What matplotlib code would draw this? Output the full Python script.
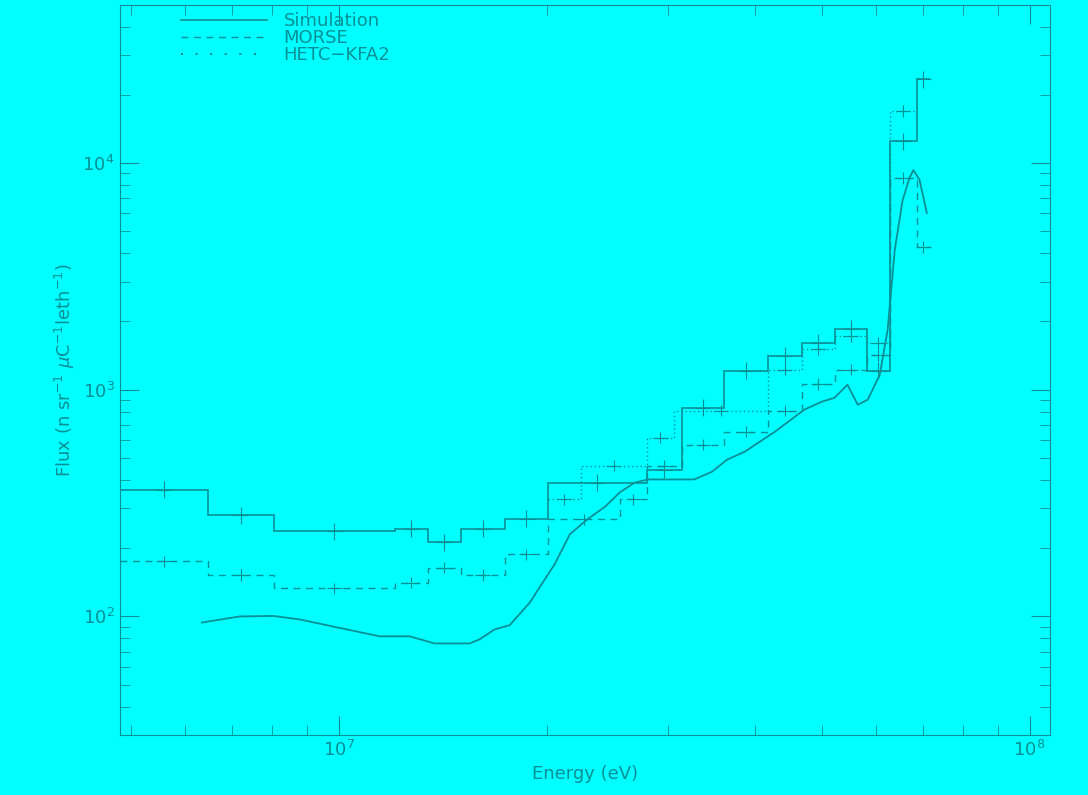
import numpy as np
import matplotlib.pyplot as plt
from matplotlib.ticker import LogLocator, NullFormatter

c = '#0a8f96'
bg = '#00ffff'

# histogram bin edges (eV) and values
sim_edges = [4.82e6, 6.46e6, 8.05e6, 1.205e7, 1.345e7, 1.502e7, 1.739e7, 2.007e7,
             2.79e7, 3.14e7, 3.61e7, 4.18e7, 4.68e7, 5.22e7, 5.81e7, 6.27e7, 6.86e7, 7.17e7]
sim_vals = [363, 279, 237, 244, 212, 244, 270, 389, 444, 833, 1213, 1412, 1611, 1857,
            1213, 12500, 23450]

morse_edges = [4.82e6, 6.46e6, 8.05e6, 1.205e7, 1.345e7, 1.502e7, 1.739e7, 2.007e7,
               2.55e7, 2.79e7, 3.14e7, 3.61e7, 4.18e7, 4.68e7, 5.22e7, 5.81e7, 6.27e7,
               6.86e7, 7.17e7]
morse_vals = [175, 152, 133, 141, 164, 152, 188, 268, 328, 463, 572, 653, 808, 1062,
              1225, 1426, 8590, 4266]

hetc_edges = [2.007e7, 2.24e7, 2.79e7, 3.06e7, 4.18e7, 4.68e7, 5.22e7, 5.81e7,
              6.27e7, 6.86e7]
hetc_vals = [328, 463, 615, 808, 1225, 1515, 1729, 1611, 16940]

# smooth simulation curve
curve_e = [6.34e6, 7.19e6, 8.05e6, 8.78e6, 1.146e7, 1.267e7, 1.377e7, 1.547e7, 1.6e7,
           1.682e7, 1.768e7, 1.89e7, 2.054e7, 2.16e7, 2.29e7, 2.43e7, 2.55e7, 2.68e7,
           2.8e7, 3.27e7, 3.47e7, 3.65e7, 3.87e7, 4.28e7, 4.72e7, 5.0e7, 5.22e7,
           5.45e7, 5.64e7, 5.83e7, 6.07e7, 6.23e7, 6.38e7, 6.55e7, 6.7e7, 6.79e7,
           6.93e7, 7.1e7]
curve_f = [94, 100, 100.5, 97, 81.7, 81.7, 76, 76, 79.3, 87.7, 91.5, 115, 170, 230,
           268, 305, 352, 389, 402, 402, 435, 492, 533, 653, 817, 885, 922, 1052, 859,
           904, 1164, 1837, 4140, 6870, 8590, 9310, 8410, 6020]


def step(ax, edges, vals, ls, lw, err, xe):
    ax.stairs(vals, edges, color=c, ls=ls, lw=lw, baseline=None)
    e = np.array(edges)
    v = np.array(vals)
    mid = np.sqrt(e[:-1] * e[1:])
    ax.errorbar(mid, v, yerr=[v - v / (1 + err), v * err], xerr=[mid - mid / (1 + xe), mid * xe],
                fmt='none', ecolor=c, elinewidth=0.8, ls=ls)


fig = plt.figure(figsize=(10.88, 7.95), dpi=100, facecolor=bg)
ax = fig.add_axes([0.110, 0.0755, 0.855, 0.918], facecolor=bg)

step(ax, sim_edges, sim_vals, '-', 1.2, 0.09, 0.025)
step(ax, morse_edges, morse_vals, (0, (5, 4)), 1.0, 0.06, 0.025)
step(ax, hetc_edges, hetc_vals, (0, (1, 2)), 1.0, 0.06, 0.025)
ax.plot(curve_e, curve_f, color=c, lw=1.3)

ax.set_xscale('log')
ax.set_yscale('log')
ax.set_xlim(4.82e6, 1.07e8)
ax.set_ylim(30, 4.97e4)

for s in ax.spines.values():
    s.set_color(c)
ax.tick_params(which='both', direction='in', top=True, right=True, colors=c,
               labelsize=13)
ax.tick_params(which='major', length=14)
ax.tick_params(which='minor', length=7)
ax.yaxis.set_minor_locator(LogLocator(subs=np.arange(2, 10)))
ax.xaxis.set_minor_locator(LogLocator(subs=np.arange(2, 10)))
ax.yaxis.set_minor_formatter(NullFormatter())
ax.xaxis.set_minor_formatter(NullFormatter())

ax.set_xlabel('Energy (eV)', color=c, fontsize=13)
ax.set_ylabel(r'Flux (n sr$^{-1}$ $\mu$C$^{-1}$leth$^{-1}$)', color=c, fontsize=13)

leg = ax.legend(handles=[plt.Line2D([], [], color=c, ls='-', lw=1.2),
                         plt.Line2D([], [], color=c, ls=(0, (5, 4)), lw=1.0),
                         plt.Line2D([], [], color=c, ls=(0, (1, 6)), lw=1.5)],
                labels=['Simulation', 'MORSE', 'HETC\u2212KFA2'],
                loc='upper left', bbox_to_anchor=(0.048, 1.013), frameon=False,
                fontsize=13, labelcolor=c, handlelength=4.8, labelspacing=-0.05,
                handletextpad=0.9)

fig.savefig('out.png', dpi=100, facecolor=bg)
